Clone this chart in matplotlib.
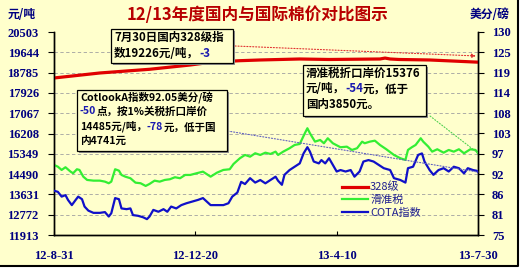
import numpy as np
import matplotlib
matplotlib.use('Agg')
import matplotlib.pyplot as plt
from matplotlib.patches import Rectangle

plt.rcParams['font.family'] = ['Noto Sans CJK SC', 'DejaVu Sans']

# ---- data (days after 2012-08-31) ----
red_days = [0, 36, 75, 107, 123, 146, 162, 193, 216, 256, 260, 264, 271, 295, 311, 333]
red_vals = [18557, 18769, 18925, 19107, 19221, 19289, 19319, 19361, 19340, 19361,
            19400, 19361, 19340, 19319, 19280, 19226]

green_days = [0, 3, 6, 9, 13, 15, 18, 20, 23, 26, 31, 36, 40, 43, 45, 48, 51, 53, 56, 60,
              64, 68, 72, 75, 79, 83, 87, 91, 95, 99, 103, 107, 112, 117, 123, 128, 133, 138, 141, 146,
              150, 154, 158, 162, 166, 170, 174, 176, 180, 185, 189, 193, 197, 199, 201, 205, 209, 212, 215, 219,
              225, 230, 234, 238, 242, 244, 248, 252, 256, 261, 267, 272, 276, 278, 281, 284, 288, 290, 294, 297,
              301, 306, 310, 314, 318, 322, 327, 331, 333]
green_vals = [14877, 14805, 14666, 14780, 14594, 14526, 14695, 14666, 14382, 14243,
              14213, 14213, 14171, 14103, 14171, 14695, 14636, 14454, 14382, 14315,
              14128, 14103, 13989, 14073, 14213, 14171, 14243, 14272, 14357, 14315,
              14454, 14454, 14526, 14594, 14382, 14551, 14666, 14695, 14919, 15161,
              15300, 15228, 15372, 15300, 15397, 15342, 15440, 15300, 15440, 15584,
              15723, 15765, 16218, 16430, 16218, 15863, 15935, 15795, 16007, 15795,
              15626, 15651, 15512, 15584, 15863, 15795, 15863, 15905, 15723, 15541,
              15300, 15161, 15089, 15512, 15626, 15723, 16007, 15863, 15651, 15440,
              15541, 15397, 15512, 15440, 15541, 15372, 15541, 15512, 15376]

blue_days = [0, 3, 6, 9, 11, 14, 17, 19, 22, 24, 27, 31, 36, 40, 43, 45, 48, 51, 53, 57,
             60, 62, 66, 70, 73, 75, 78, 82, 86, 89, 92, 96, 100, 104, 108, 113, 117, 123, 128, 133,
             137, 140, 144, 147, 150, 154, 158, 162, 166, 170, 174, 176, 179, 181, 185, 189, 193, 196, 199, 201,
             204, 208, 210, 213, 216, 219, 222, 225, 229, 233, 236, 240, 243, 247, 251, 255, 259, 264, 267, 272,
             276, 278, 282, 286, 289, 291, 295, 298, 302, 306, 310, 314, 318, 322, 325, 329, 332, 333]
blue_vals = [87.0, 86.7, 85.4, 85.8, 84.5, 83.1, 84.5, 85.4, 84.7, 82.7,
             81.6, 81.0, 81.0, 81.2, 80.0, 80.9, 85.0, 84.7, 82.2, 82.0,
             82.2, 80.4, 80.2, 79.8, 79.3, 80.0, 81.8, 81.3, 82.0, 81.3,
             82.7, 82.2, 83.1, 83.6, 84.0, 84.5, 85.0, 83.1, 83.1, 83.1,
             83.6, 85.4, 86.5, 89.4, 88.8, 90.4, 89.2, 89.9, 89.0, 89.9,
             90.8, 89.7, 88.6, 91.3, 92.6, 93.5, 94.4, 97.1, 98.8, 97.6,
             94.9, 94.4, 95.3, 94.4, 95.8, 94.0, 92.2, 92.6, 92.2, 92.6,
             90.8, 92.2, 94.9, 95.3, 94.9, 94.0, 93.1, 92.6, 90.4, 89.9,
             89.2, 93.1, 93.5, 96.7, 97.1, 94.9, 92.6, 91.3, 92.6, 93.1,
             92.2, 93.5, 93.1, 91.7, 93.1, 92.6, 92.4, 92.05]

series_names = ['328级', '滑准税', 'COTA指数']
x_ticks = [0, 111, 222, 333]
x_labels = ['12-8-31', '12-12-20', '13-4-10', '13-7-30']
left_ticks = np.arange(11913, 20504, 859)
right_ticks = np.linspace(75, 130, 11)
right_labels = ['75', '81', '86', '92', '97', '103', '108', '114', '119', '125', '130']

W, H = 521, 269
BG = '#FFFFCC'
NAVY = '#000080'
NEG = '#1A1AB0'


def px(x, y):
    return x / W, 1 - y / H


fig = plt.figure(figsize=(W / 100, H / 100), dpi=100, facecolor='white')
# chart area with dark right/bottom border
fig.patches.append(Rectangle(px(0, 266), 518 / W, 266 / H, transform=fig.transFigure,
                             facecolor=BG, edgecolor='none', zorder=-10))
fig.add_artist(plt.Line2D([0, 518 / W, 518 / W], [1 - 266 / H, 1 - 266 / H, 1],
                          transform=fig.transFigure, color='black', lw=1.5))

ax = fig.add_axes([54 / W, 1 - 235 / H, 424 / W, 203 / H], facecolor=BG)
ax2 = ax.twinx()

l_red, = ax.plot(red_days, red_vals, color='#E00000', lw=2.3, zorder=3)
l_green, = ax.plot(green_days, green_vals, color='#33EE33', lw=1.6, zorder=3)
l_blue, = ax2.plot(blue_days, blue_vals, color='#1010C8', lw=1.6, zorder=3)

ax.set_xlim(0, 333)
ax.set_ylim(left_ticks[0], left_ticks[-1])
ax2.set_ylim(75, 130)
ax.set_xticks(x_ticks)
ax.set_xticklabels(x_labels)
ax.set_yticks(left_ticks)
ax.set_yticklabels([str(v) for v in left_ticks])
ax2.set_yticks(right_ticks)
ax2.set_yticklabels(right_labels)

tick_font = dict(family='Liberation Serif', weight='bold', size=9)
for lab in ax.get_xticklabels() + ax.get_yticklabels() + ax2.get_yticklabels():
    lab.set_fontproperties(tick_font)
    lab.set_color(NAVY)

ax.tick_params(axis='x', direction='in', length=3, pad=11)
ax.tick_params(axis='y', direction='out', length=4, pad=7)
ax2.tick_params(axis='y', direction='out', length=4, pad=6)
for a in (ax, ax2):
    a.spines['top'].set_visible(False)
    for s in ('left', 'right', 'bottom'):
        a.spines[s].set_linewidth(1.0)

ax.grid(axis='y', color='#A0A0A0', linestyle=(0, (4, 3)), linewidth=0.6)
ax.set_axisbelow(True)
ax.get_ygridlines()[-1].set_visible(False)

# titles / unit labels
fig.text(*px(257, 15), '12/13年度国内与国际棉价对比图示', ha='center', va='center',
         fontsize=12, fontweight='bold', color='#B80000')
fig.text(*px(22, 15), '元/吨', ha='center', va='center', fontsize=8.5,
         fontweight='bold', color=NAVY)
fig.text(*px(490, 15), '美分/磅', ha='center', va='center', fontsize=8.5,
         fontweight='bold', color=NAVY)


def note_box(x0, y0, x1, y1, lines, step=15.5, size=8.3):
    ax2.add_patch(Rectangle(px(x0 + 2, y1 + 2), (x1 - x0) / W, (y1 - y0) / H,
                            transform=fig.transFigure, facecolor='#909090',
                            edgecolor='none', clip_on=False, zorder=5))
    ax2.add_patch(Rectangle(px(x0, y1), (x1 - x0) / W, (y1 - y0) / H,
                            transform=fig.transFigure, facecolor=BG,
                            edgecolor='black', lw=0.9, clip_on=False, zorder=6))
    for i, segs in enumerate(lines):
        prev = None
        for txt, col in segs:
            if prev is None:
                prev = ax2.text(*px(x0 + 3, y0 + 2 + i * step), txt, transform=fig.transFigure,
                                ha='left', va='top', fontsize=size, fontweight='bold',
                                color=col, zorder=7, clip_on=False)
            else:
                prev = ax2.annotate(txt, xy=(1, 0), xycoords=prev, ha='left', va='bottom',
                                    fontsize=size, fontweight='bold', color=col,
                                    zorder=7, annotation_clip=False)


note_box(111, 29, 233, 63, [
    [('7月30日国内328级指', 'black')],
    [('数19226元/吨，', 'black'), ('-3', NEG)],
])
note_box(77, 90, 227, 151, [
    [('CotlookA指数92.05美分/磅', 'black')],
    [('-50', NEG), ('点，按1%关税折口岸价', 'black')],
    [('14485元/吨，', 'black'), ('-78', NEG), ('元，低于国', 'black')],
    [('内4741元', 'black')],
], step=14.5, size=7.6)
note_box(303, 65, 426, 116, [
    [('滑准税折口岸价15376', 'black')],
    [('元/吨，', 'black'), ('-54', NEG), ('元，低于', 'black')],
    [('国内3850元。', 'black')],
])

# dotted leader lines
ax2.annotate('', xy=(0.995, 0.882), xycoords='axes fraction',
             xytext=(0.427, 0.931), textcoords='axes fraction',
             arrowprops=dict(arrowstyle='-|>', linestyle=':', color='#E03030', lw=0.8,
                             mutation_scale=6, shrinkA=0, shrinkB=0), zorder=4)
ax2.annotate('', xy=(blue_days[-1], blue_vals[-1]), xycoords='data',
             xytext=(0.41, 0.512), textcoords='axes fraction',
             arrowprops=dict(arrowstyle='-', linestyle=':', color='#6060C0', lw=0.8,
                             shrinkA=0, shrinkB=0), zorder=4)
ax2.annotate('', xy=(green_days[-1], green_vals[-1]), xycoords=ax.transData,
             xytext=(0.887, 0.586), textcoords='axes fraction',
             arrowprops=dict(arrowstyle='-', linestyle=':', color='#50D050', lw=0.8,
                             shrinkA=0, shrinkB=0), zorder=4)

leg = ax2.legend([l_red, l_green, l_blue], series_names, loc='upper left',
                 bbox_to_anchor=(0.68, 0.26), frameon=False, fontsize=8,
                 handlelength=2.3, handletextpad=0.2, labelspacing=0.2,
                 borderaxespad=0, borderpad=0, labelcolor='#202090')
leg.set_zorder(8)

fig.savefig('out.png', dpi=100, facecolor=fig.get_facecolor())
